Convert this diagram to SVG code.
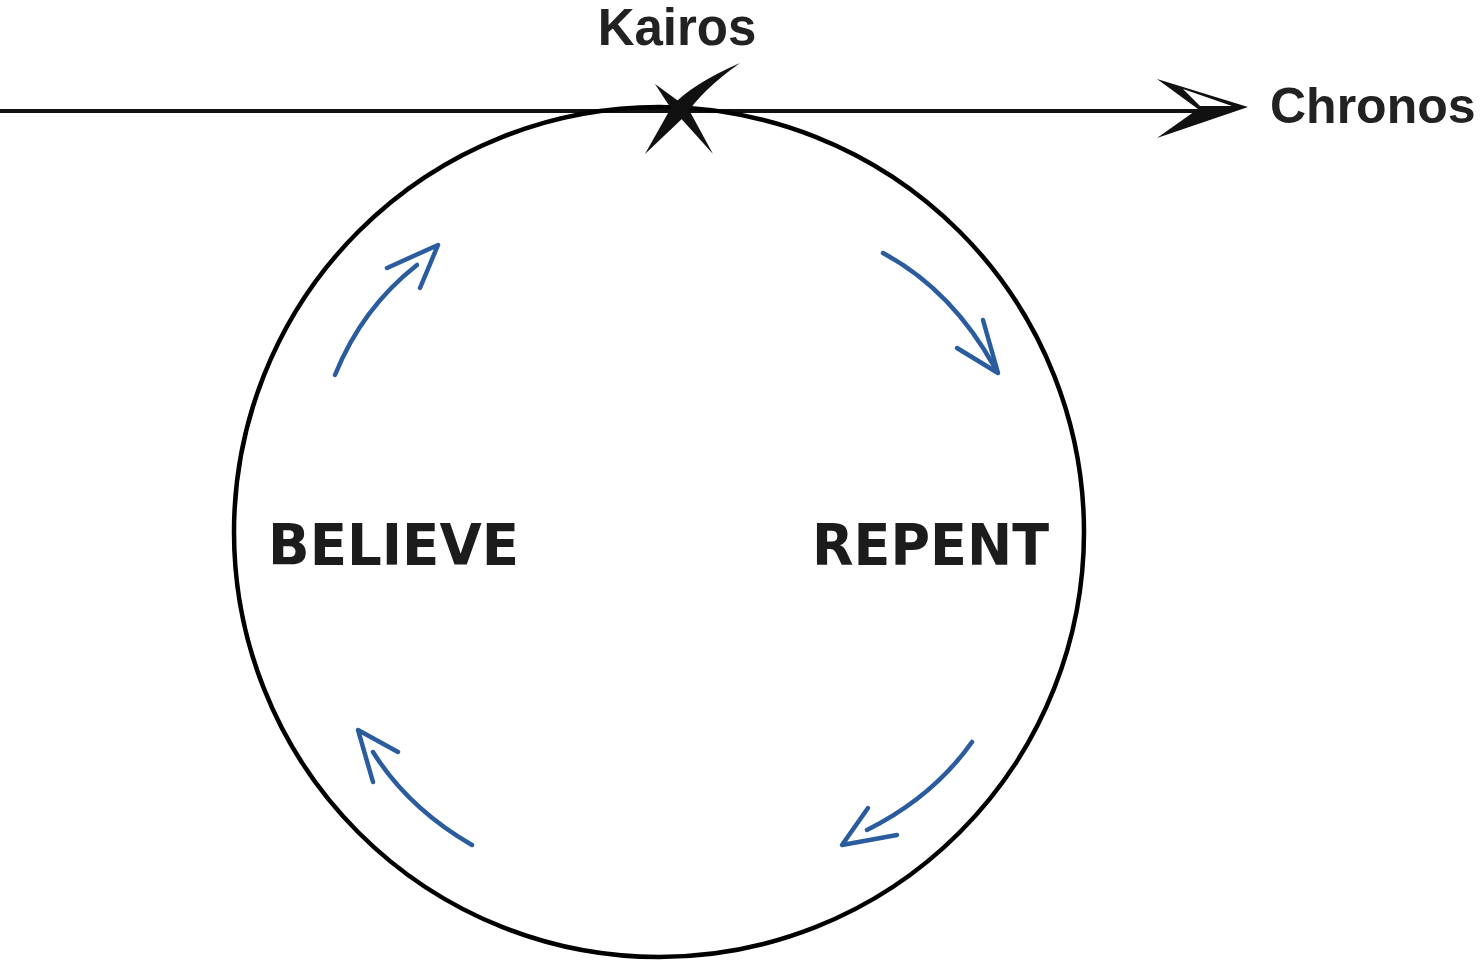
<svg xmlns="http://www.w3.org/2000/svg" width="1483" height="962" viewBox="0 0 1483 962">
<style>
.lbl{font-family:"Liberation Sans","DejaVu Sans",sans-serif;font-weight:bold;fill:#222;}
.big{font-family:"DejaVu Sans","Liberation Sans",sans-serif;font-weight:900;fill:#1c1c1c;}
.blue{fill:none;stroke:#2a5c9e;stroke-width:4.5;stroke-linecap:round;stroke-linejoin:round;}
</style>
<rect width="1483" height="962" fill="#ffffff"/>
<g id="connectors">
  <line x1="0" y1="111" x2="1215" y2="111" stroke="#111" stroke-width="4"/>
  <path d="M1248,107 L1157,79 L1198,109 L1157,138 Z M1183,89 L1232,106 L1200,106 Z" fill="#111" fill-rule="evenodd"/>
  <path class="blue" d="M335,375 Q362,308 417,265"/>
  <path class="blue" d="M387,268 L438,245 L420,288"/>
  <path class="blue" d="M883,253 Q952,290 995,368"/>
  <path class="blue" d="M983,320 L998,373 L957,348"/>
  <path class="blue" d="M472,845 Q408,808 373,752"/>
  <path class="blue" d="M398,752 L358,730 L373,782"/>
  <path class="blue" d="M972,742 Q933,797 867,830"/>
  <path class="blue" d="M868,808 L842,845 L897,835"/>
</g>
<g id="cycle">
  <circle cx="659" cy="532" r="425" fill="none" stroke="#000" stroke-width="4.5"/>
</g>
<g id="kairos">
  <path d="M740,63 Q692,84 672,106 L645,154 L685,116 Q702,90 740,63 Z" fill="#111"/>
  <path d="M655,84 L668,104 L713,154 L688,108 Z" fill="#111"/>
  <text class="lbl" x="677" y="45" font-size="51" text-anchor="middle">Kairos</text>
</g>
<g id="chronos">
  <text class="lbl" x="1270" y="123" font-size="50">Chronos</text>
</g>
<g id="believe">
  <text class="big" x="268" y="565" font-size="57" textLength="251" lengthAdjust="spacingAndGlyphs">BELIEVE</text>
</g>
<g id="repent">
  <text class="big" x="812" y="565" font-size="57" textLength="237" lengthAdjust="spacingAndGlyphs">REPENT</text>
</g>
</svg>
